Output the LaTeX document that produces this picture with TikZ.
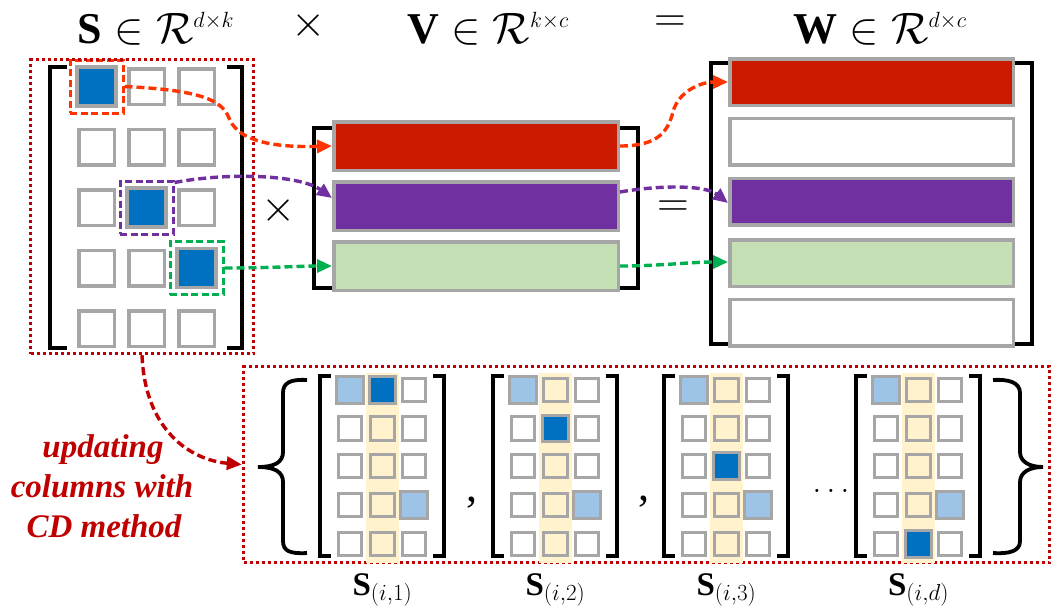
\RequirePackage{fix-cm}
\documentclass[tikz,border=0pt]{standalone}
\usepackage{fontspec}
\setmainfont{Liberation Serif}
\usetikzlibrary{arrows.meta,calc}
\definecolor{cgray}{HTML}{A6A6A6}
\definecolor{cblue}{HTML}{0070C0}
\definecolor{clblue}{HTML}{9DC3E6}
\definecolor{cyel}{HTML}{FFF2CC}
\definecolor{cred}{HTML}{CC1A00}
\definecolor{cpur}{HTML}{7030A0}
\definecolor{cgrn}{HTML}{C5E0B4}
\definecolor{corg}{HTML}{FF3300}
\definecolor{cgarrow}{HTML}{00B050}
\definecolor{cdred}{HTML}{C00000}
\newcommand{\hdrfont}{\fontsize{44}{52}\selectfont}
\newcommand{\lblfont}{\fontsize{33}{40}\selectfont}
\newcommand{\txtfont}{\fontsize{33}{40}\selectfont\bfseries\itshape}
\tikzset{
  bigcell/.style={draw=cgray, line width=3.5pt, minimum size=35.5pt, inner sep=0pt, fill=white},
  smallcell/.style={draw=cgray, line width=3pt, minimum size=23.5pt, inner sep=0pt},
  vbar/.style={draw=cgray, line width=3.5pt, minimum width=284.5pt, minimum height=48.5pt, inner sep=0pt},
  wbar/.style={draw=cgray, line width=3.5pt, minimum width=283.5pt, minimum height=46.5pt, inner sep=0pt},
  brk/.style={line width=3.8pt, draw=black},
  dbox/.style={line width=3pt, dash pattern=on 7pt off 3.5pt, minimum size=53pt, inner sep=0pt},
  conn/.style={line width=3.4pt, dash pattern=on 8pt off 4pt, -{Triangle[length=15pt,width=13pt]}},
  dotbox/.style={draw=cdred, line width=3.4pt, dash pattern=on 3pt off 3pt, inner sep=0pt},
}
\begin{document}
\begin{tikzpicture}[x=1pt,y=-1pt]
\fill[white] (0,0) rectangle (1060,614);
\useasboundingbox (0,0) rectangle (1060,614);

% headers
\node[anchor=base, font=\hdrfont, inner sep=0pt] (hs) at (156,43) {$\textbf{S}\in\mathcal{R}^{\scriptscriptstyle d\times k}$};
\node[anchor=base, font=\hdrfont, inner sep=0pt] (hv) at (488,43) {$\textbf{V}\in\mathcal{R}^{\scriptscriptstyle k\times c}$};
\node[anchor=base, font=\hdrfont, inner sep=0pt] (hw) at (880,43) {$\textbf{W}\in\mathcal{R}^{\scriptscriptstyle d\times c}$};
\node[font=\hdrfont, inner sep=0pt] (tm1) at (309,25) {$\times$};
\node[font=\hdrfont, inner sep=0pt] (eq1) at (670,24) {$=$};
\node[font=\hdrfont, inner sep=0pt] (tm2) at (279,210) {$\times$};
\node[font=\hdrfont, inner sep=0pt] (eq2) at (673,209) {$=$};

% S matrix
\draw[brk] (67,67) -- (50,67) -- (50,348) -- (67,348);
\draw[brk] (227,67) -- (242,67) -- (242,348) -- (227,348);
\foreach \r/\y in {1/86.5,2/147,3/207.5,4/268,5/328.5}{
  \foreach \c/\x in {1/96.5,2/146.5,3/196.5}{
    \node[bigcell] (s-\r-\c) at (\x,\y) {};
  }
}
\foreach \n in {s-1-1,s-3-2,s-4-3}{
  \path[fill=cblue, draw=cgray, line width=3.5pt] (\n.south west) rectangle (\n.north east);
}
\node[dbox, draw=corg] (obox) at (s-1-1) {};
\node[dbox, draw=cpur] (pbox) at (s-3-2) {};
\node[dbox, draw=cgarrow] (gbox) at (s-4-3) {};
\node[dotbox, minimum width=223pt, minimum height=294pt] (sbox) at (142,206.5) {};

% V matrix
\draw[brk] (332,128) -- (314,128) -- (314,288) -- (332,288);
\draw[brk] (620,128) -- (638,128) -- (638,288) -- (620,288);
\node[vbar, fill=cred] (v1) at (476,146) {};
\node[vbar, fill=cpur] (v2) at (476,206) {};
\node[vbar, fill=cgrn] (v3) at (476,266) {};

% W matrix
\draw[brk] (728,63) -- (711,63) -- (711,344) -- (728,344);
\draw[brk] (1015,63) -- (1032,63) -- (1032,344) -- (1015,344);
\node[wbar, fill=cred] (w1) at (871.5,82) {};
\node[wbar, fill=white] (w2) at (871.5,141.5) {};
\node[wbar, fill=cpur] (w3) at (871.5,201.5) {};
\node[wbar, fill=cgrn] (w4) at (871.5,263) {};
\node[wbar, fill=white] (w5) at (871.5,322.5) {};

% connectors S -> V
\draw[conn, color=corg] (obox.east) .. controls (200,90) and (222,100) .. (229,118)
   .. controls (236,136) and (260,148) .. (v1.west);
\draw[conn, color=cpur] ($(pbox.north east)+(0,3)$) .. controls (230,172) and (300,175) .. ($(v2.west)+(0,-8)$);
\draw[conn, color=cgarrow] (gbox.east) .. controls (270,268) and (300,266) .. (v3.west);
% connectors V -> W
\draw[conn, color=corg] (v1.east) .. controls (660,146) and (668,130) .. (673,112)
   .. controls (678,92) and (700,82) .. (w1.west);
\draw[conn, color=cpur] ($(v2.east)+(0,-14)$) .. controls (660,185) and (705,185) .. ($(w3.west)+(0,1.5)$);
\draw[conn, color=cgarrow] (v3.east) .. controls (660,266) and (690,262) .. ($(w4.west)+(0,-1)$);

% bottom box
\node[dotbox, minimum width=806pt, minimum height=196pt] (bbox) at (646.5,464.5) {};
\draw[conn, color=cdred] (sbox.south) .. controls (145,430) and (190,460) .. (bbox.west);

% text
\node[anchor=base, font=\txtfont, text=cdred, inner sep=0pt] (t1) at (103,457) {updating};
\node[anchor=base, font=\txtfont, text=cdred, inner sep=0pt] (t2) at (102,497) {columns with};
\node[anchor=base, font=\txtfont, text=cdred, inner sep=0pt] (t3) at (104,537) {CD method};

% braces
\draw[brk] (307,380) .. controls (290,379) and (283,383) .. (283,393) -- (283,452)
   .. controls (283,462) and (275,467) .. (258,467) .. controls (275,467) and (283,472) .. (283,482)
   -- (283,541) .. controls (283,551) and (290,554) .. (307,553);
\draw[brk] (993,380) .. controls (1010,379) and (1020,383) .. (1020,393) -- (1020,452)
   .. controls (1020,462) and (1030,467) .. (1043,467) .. controls (1030,467) and (1020,472) .. (1020,482)
   -- (1020,541) .. controls (1020,551) and (1010,554) .. (993,553);

% bottom matrices
\foreach \m/\b/\dr/\lab in {1/320/1/1, 2/493/2/2, 3/664/3/3, 4/856/5/d}{
  \fill[cyel] (\b+46,373) rectangle (\b+79,563);
  \draw[brk] (\b+11,376) -- (\b,376) -- (\b,556) -- (\b+11,556);
  \draw[brk] (\b+113,376) -- (\b+124,376) -- (\b+124,556) -- (\b+113,556);
  \foreach \r/\y in {1/390,2/428.5,3/466,4/505,5/544}{
    \node[smallcell, fill=white] (m\m-\r-1) at (\b+30,\y) {};
    \node[smallcell, fill=cyel] (m\m-\r-2) at (\b+62.5,\y) {};
    \node[smallcell, fill=white] (m\m-\r-3) at (\b+94,\y) {};
  }
  \path[fill=clblue, draw=cgray, line width=3pt] (m\m-1-1.south west) rectangle (m\m-1-1.north east);
  \path[fill=clblue, draw=cgray, line width=3pt] (m\m-4-3.south west) rectangle (m\m-4-3.north east);
  \path[fill=cblue, draw=cgray, line width=3pt] (m\m-\dr-2.south west) rectangle (m\m-\dr-2.north east);
  \node[anchor=base, font=\lblfont, inner sep=0pt] (lab\m) at (\b+62.5,595) {$\textbf{S}_{(i,\lab)}$};
}
\node[anchor=base, font=\hdrfont, inner sep=0pt] (cm1) at (472,501) {,};
\node[anchor=base, font=\hdrfont, inner sep=0pt] (cm2) at (644,500) {,};
\node[anchor=base, font=\fontsize{32}{38}\selectfont, inner sep=0pt] (dots) at (831,492) {$\ldots$};
\end{tikzpicture}
\end{document}
